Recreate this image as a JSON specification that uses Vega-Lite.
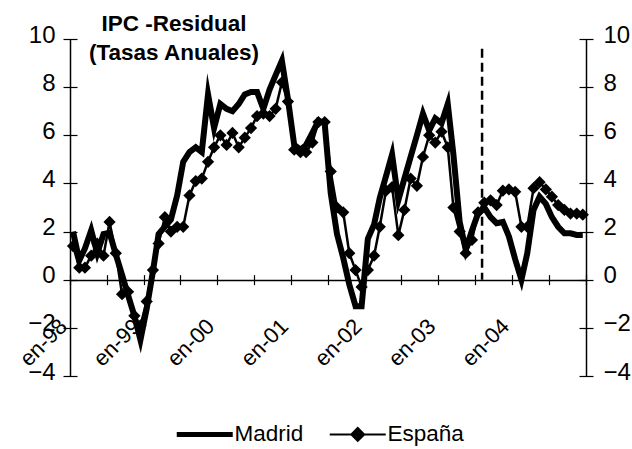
{
  "$schema": "https://vega.github.io/schema/vega-lite/v6.json",
  "width": 516,
  "height": 337,
  "autosize": {"type": "none"},
  "padding": {"left": 70, "top": 39, "right": 46, "bottom": 73},
  "background": "white",
  "config": {"view": {"stroke": null}, "font": "Liberation Sans"},
  "title": {
    "text": ["IPC -Residual", "(Tasas Anuales)"],
    "anchor": "start",
    "frame": "group",
    "align": "center",
    "dx": 104,
    "dy": 37,
    "offset": -22,
    "baseline": "alphabetic",
    "lineHeight": 29,
    "font": "Liberation Sans",
    "fontSize": 22.5,
    "fontWeight": "bold",
    "color": "black"
  },
  "datasets": {
    "ipc": [
      {"fecha": "1998-01-16", "serie": "Madrid", "valor": 2.0},
      {"fecha": "1998-02-16", "serie": "Madrid", "valor": 0.8},
      {"fecha": "1998-03-16", "serie": "Madrid", "valor": 1.3},
      {"fecha": "1998-04-16", "serie": "Madrid", "valor": 2.05},
      {"fecha": "1998-05-16", "serie": "Madrid", "valor": 1.1},
      {"fecha": "1998-06-16", "serie": "Madrid", "valor": 1.9},
      {"fecha": "1998-07-16", "serie": "Madrid", "valor": 1.95},
      {"fecha": "1998-08-16", "serie": "Madrid", "valor": 1.05},
      {"fecha": "1998-09-16", "serie": "Madrid", "valor": 0.2},
      {"fecha": "1998-10-16", "serie": "Madrid", "valor": -0.65},
      {"fecha": "1998-11-16", "serie": "Madrid", "valor": -1.5},
      {"fecha": "1998-12-16", "serie": "Madrid", "valor": -2.5},
      {"fecha": "1999-01-16", "serie": "Madrid", "valor": -1.2},
      {"fecha": "1999-02-16", "serie": "Madrid", "valor": 0.35},
      {"fecha": "1999-03-16", "serie": "Madrid", "valor": 1.9},
      {"fecha": "1999-04-16", "serie": "Madrid", "valor": 2.2},
      {"fecha": "1999-05-16", "serie": "Madrid", "valor": 2.5},
      {"fecha": "1999-06-16", "serie": "Madrid", "valor": 3.5},
      {"fecha": "1999-07-16", "serie": "Madrid", "valor": 4.9},
      {"fecha": "1999-08-16", "serie": "Madrid", "valor": 5.3},
      {"fecha": "1999-09-16", "serie": "Madrid", "valor": 5.5},
      {"fecha": "1999-10-16", "serie": "Madrid", "valor": 5.3},
      {"fecha": "1999-11-16", "serie": "Madrid", "valor": 7.7},
      {"fecha": "1999-12-16", "serie": "Madrid", "valor": 6.3},
      {"fecha": "2000-01-16", "serie": "Madrid", "valor": 7.3},
      {"fecha": "2000-02-16", "serie": "Madrid", "valor": 7.1},
      {"fecha": "2000-03-16", "serie": "Madrid", "valor": 7.0},
      {"fecha": "2000-04-16", "serie": "Madrid", "valor": 7.3},
      {"fecha": "2000-05-16", "serie": "Madrid", "valor": 7.7},
      {"fecha": "2000-06-16", "serie": "Madrid", "valor": 7.8},
      {"fecha": "2000-07-16", "serie": "Madrid", "valor": 7.8},
      {"fecha": "2000-08-16", "serie": "Madrid", "valor": 7.1},
      {"fecha": "2000-09-16", "serie": "Madrid", "valor": 7.9},
      {"fecha": "2000-10-16", "serie": "Madrid", "valor": 8.5},
      {"fecha": "2000-11-16", "serie": "Madrid", "valor": 9.1},
      {"fecha": "2000-12-16", "serie": "Madrid", "valor": 7.5},
      {"fecha": "2001-01-16", "serie": "Madrid", "valor": 5.6},
      {"fecha": "2001-02-16", "serie": "Madrid", "valor": 5.4},
      {"fecha": "2001-03-16", "serie": "Madrid", "valor": 5.6},
      {"fecha": "2001-04-16", "serie": "Madrid", "valor": 6.1},
      {"fecha": "2001-05-16", "serie": "Madrid", "valor": 6.6},
      {"fecha": "2001-06-16", "serie": "Madrid", "valor": 6.5},
      {"fecha": "2001-07-16", "serie": "Madrid", "valor": 3.6},
      {"fecha": "2001-08-16", "serie": "Madrid", "valor": 1.9},
      {"fecha": "2001-09-16", "serie": "Madrid", "valor": 0.9},
      {"fecha": "2001-10-16", "serie": "Madrid", "valor": -0.2},
      {"fecha": "2001-11-16", "serie": "Madrid", "valor": -1.1},
      {"fecha": "2001-12-16", "serie": "Madrid", "valor": -1.1},
      {"fecha": "2002-01-16", "serie": "Madrid", "valor": 1.7},
      {"fecha": "2002-02-16", "serie": "Madrid", "valor": 2.3},
      {"fecha": "2002-03-16", "serie": "Madrid", "valor": 3.4},
      {"fecha": "2002-04-16", "serie": "Madrid", "valor": 4.3},
      {"fecha": "2002-05-16", "serie": "Madrid", "valor": 5.2},
      {"fecha": "2002-06-16", "serie": "Madrid", "valor": 3.3},
      {"fecha": "2002-07-16", "serie": "Madrid", "valor": 4.2},
      {"fecha": "2002-08-16", "serie": "Madrid", "valor": 5.1},
      {"fecha": "2002-09-16", "serie": "Madrid", "valor": 6.0},
      {"fecha": "2002-10-16", "serie": "Madrid", "valor": 6.9},
      {"fecha": "2002-11-16", "serie": "Madrid", "valor": 6.2},
      {"fecha": "2002-12-16", "serie": "Madrid", "valor": 6.7},
      {"fecha": "2003-01-16", "serie": "Madrid", "valor": 6.5},
      {"fecha": "2003-02-16", "serie": "Madrid", "valor": 7.3},
      {"fecha": "2003-03-16", "serie": "Madrid", "valor": 5.2},
      {"fecha": "2003-04-16", "serie": "Madrid", "valor": 2.4},
      {"fecha": "2003-05-16", "serie": "Madrid", "valor": 1.25},
      {"fecha": "2003-06-16", "serie": "Madrid", "valor": 2.05},
      {"fecha": "2003-07-16", "serie": "Madrid", "valor": 2.75},
      {"fecha": "2003-08-16", "serie": "Madrid", "valor": 3.0},
      {"fecha": "2003-09-16", "serie": "Madrid", "valor": 2.6},
      {"fecha": "2003-10-16", "serie": "Madrid", "valor": 2.35},
      {"fecha": "2003-11-16", "serie": "Madrid", "valor": 2.4},
      {"fecha": "2003-12-16", "serie": "Madrid", "valor": 1.8},
      {"fecha": "2004-01-16", "serie": "Madrid", "valor": 0.85},
      {"fecha": "2004-02-16", "serie": "Madrid", "valor": 0.0},
      {"fecha": "2004-03-16", "serie": "Madrid", "valor": 1.1},
      {"fecha": "2004-04-16", "serie": "Madrid", "valor": 2.9},
      {"fecha": "2004-05-16", "serie": "Madrid", "valor": 3.45},
      {"fecha": "2004-06-16", "serie": "Madrid", "valor": 3.15},
      {"fecha": "2004-07-16", "serie": "Madrid", "valor": 2.6},
      {"fecha": "2004-08-16", "serie": "Madrid", "valor": 2.2},
      {"fecha": "2004-09-16", "serie": "Madrid", "valor": 1.93},
      {"fecha": "2004-10-16", "serie": "Madrid", "valor": 1.93},
      {"fecha": "2004-11-16", "serie": "Madrid", "valor": 1.86},
      {"fecha": "2004-12-16", "serie": "Madrid", "valor": 1.86},
      {"fecha": "1998-01-16", "serie": "España", "valor": 1.4},
      {"fecha": "1998-02-16", "serie": "España", "valor": 0.5},
      {"fecha": "1998-03-16", "serie": "España", "valor": 0.5},
      {"fecha": "1998-04-16", "serie": "España", "valor": 1.0},
      {"fecha": "1998-05-16", "serie": "España", "valor": 1.5},
      {"fecha": "1998-06-16", "serie": "España", "valor": 1.0},
      {"fecha": "1998-07-16", "serie": "España", "valor": 2.4},
      {"fecha": "1998-08-16", "serie": "España", "valor": 1.1},
      {"fecha": "1998-09-16", "serie": "España", "valor": -0.6},
      {"fecha": "1998-10-16", "serie": "España", "valor": -0.5},
      {"fecha": "1998-11-16", "serie": "España", "valor": -1.5},
      {"fecha": "1998-12-16", "serie": "España", "valor": -1.9},
      {"fecha": "1999-01-16", "serie": "España", "valor": -0.9},
      {"fecha": "1999-02-16", "serie": "España", "valor": 0.4},
      {"fecha": "1999-03-16", "serie": "España", "valor": 1.5},
      {"fecha": "1999-04-16", "serie": "España", "valor": 2.6},
      {"fecha": "1999-05-16", "serie": "España", "valor": 2.0},
      {"fecha": "1999-06-16", "serie": "España", "valor": 2.2},
      {"fecha": "1999-07-16", "serie": "España", "valor": 2.2},
      {"fecha": "1999-08-16", "serie": "España", "valor": 3.5},
      {"fecha": "1999-09-16", "serie": "España", "valor": 4.1},
      {"fecha": "1999-10-16", "serie": "España", "valor": 4.2},
      {"fecha": "1999-11-16", "serie": "España", "valor": 4.9},
      {"fecha": "1999-12-16", "serie": "España", "valor": 5.5},
      {"fecha": "2000-01-16", "serie": "España", "valor": 6.0},
      {"fecha": "2000-02-16", "serie": "España", "valor": 5.6},
      {"fecha": "2000-03-16", "serie": "España", "valor": 6.1},
      {"fecha": "2000-04-16", "serie": "España", "valor": 5.5},
      {"fecha": "2000-05-16", "serie": "España", "valor": 5.9},
      {"fecha": "2000-06-16", "serie": "España", "valor": 6.3},
      {"fecha": "2000-07-16", "serie": "España", "valor": 6.8},
      {"fecha": "2000-08-16", "serie": "España", "valor": 6.9},
      {"fecha": "2000-09-16", "serie": "España", "valor": 6.8},
      {"fecha": "2000-10-16", "serie": "España", "valor": 7.1},
      {"fecha": "2000-11-16", "serie": "España", "valor": 8.2},
      {"fecha": "2000-12-16", "serie": "España", "valor": 7.4},
      {"fecha": "2001-01-16", "serie": "España", "valor": 5.4},
      {"fecha": "2001-02-16", "serie": "España", "valor": 5.3},
      {"fecha": "2001-03-16", "serie": "España", "valor": 5.3},
      {"fecha": "2001-04-16", "serie": "España", "valor": 5.7},
      {"fecha": "2001-05-16", "serie": "España", "valor": 6.55},
      {"fecha": "2001-06-16", "serie": "España", "valor": 6.55},
      {"fecha": "2001-07-16", "serie": "España", "valor": 4.5},
      {"fecha": "2001-08-16", "serie": "España", "valor": 3.0},
      {"fecha": "2001-09-16", "serie": "España", "valor": 2.8},
      {"fecha": "2001-10-16", "serie": "España", "valor": 1.1},
      {"fecha": "2001-11-16", "serie": "España", "valor": 0.4},
      {"fecha": "2001-12-16", "serie": "España", "valor": -0.3},
      {"fecha": "2002-01-16", "serie": "España", "valor": 0.4},
      {"fecha": "2002-02-16", "serie": "España", "valor": 1.0},
      {"fecha": "2002-03-16", "serie": "España", "valor": 2.2},
      {"fecha": "2002-04-16", "serie": "España", "valor": 3.7},
      {"fecha": "2002-05-16", "serie": "España", "valor": 3.85},
      {"fecha": "2002-06-16", "serie": "España", "valor": 1.85},
      {"fecha": "2002-07-16", "serie": "España", "valor": 2.9},
      {"fecha": "2002-08-16", "serie": "España", "valor": 4.2},
      {"fecha": "2002-09-16", "serie": "España", "valor": 3.9},
      {"fecha": "2002-10-16", "serie": "España", "valor": 5.1},
      {"fecha": "2002-11-16", "serie": "España", "valor": 6.0},
      {"fecha": "2002-12-16", "serie": "España", "valor": 5.7},
      {"fecha": "2003-01-16", "serie": "España", "valor": 6.15},
      {"fecha": "2003-02-16", "serie": "España", "valor": 5.5},
      {"fecha": "2003-03-16", "serie": "España", "valor": 3.0},
      {"fecha": "2003-04-16", "serie": "España", "valor": 2.0},
      {"fecha": "2003-05-16", "serie": "España", "valor": 1.1},
      {"fecha": "2003-06-16", "serie": "España", "valor": 1.65},
      {"fecha": "2003-07-16", "serie": "España", "valor": 2.8},
      {"fecha": "2003-08-16", "serie": "España", "valor": 3.2},
      {"fecha": "2003-09-16", "serie": "España", "valor": 3.3},
      {"fecha": "2003-10-16", "serie": "España", "valor": 3.1},
      {"fecha": "2003-11-16", "serie": "España", "valor": 3.7},
      {"fecha": "2003-12-16", "serie": "España", "valor": 3.75},
      {"fecha": "2004-01-16", "serie": "España", "valor": 3.65},
      {"fecha": "2004-02-16", "serie": "España", "valor": 2.2},
      {"fecha": "2004-03-16", "serie": "España", "valor": 2.2},
      {"fecha": "2004-04-16", "serie": "España", "valor": 3.8},
      {"fecha": "2004-05-16", "serie": "España", "valor": 4.05},
      {"fecha": "2004-06-16", "serie": "España", "valor": 3.75},
      {"fecha": "2004-07-16", "serie": "España", "valor": 3.45},
      {"fecha": "2004-08-16", "serie": "España", "valor": 3.1},
      {"fecha": "2004-09-16", "serie": "España", "valor": 2.9},
      {"fecha": "2004-10-16", "serie": "España", "valor": 2.75},
      {"fecha": "2004-11-16", "serie": "España", "valor": 2.75},
      {"fecha": "2004-12-16", "serie": "España", "valor": 2.7}
    ],
    "corte": [{"fecha": "2003-08-05", "arriba": 9.6, "abajo": 0}]
  },
  "layer": [
    {
      "data": {"name": "ipc"},
      "transform": [{"filter": "datum.serie === 'Madrid'"}],
      "mark": {"type": "line", "strokeWidth": 6, "strokeJoin": "miter", "strokeMiterLimit": 10},
      "encoding": {
        "x": {
          "field": "fecha", "type": "temporal",
          "scale": {"type": "utc", "domain": [{"year": 1998, "month": 1, "date": 1, "utc": true}, {"year": 2005, "month": 1, "date": 1, "utc": true}]},
          "axis": {
            "orient": "bottom", "offset": -101.4,
            "values": [
              {"year": 1998, "month": 1, "date": 1, "utc": true}, {"year": 1998, "month": 7, "date": 1, "utc": true},
              {"year": 1999, "month": 1, "date": 1, "utc": true}, {"year": 1999, "month": 7, "date": 1, "utc": true},
              {"year": 2000, "month": 1, "date": 1, "utc": true}, {"year": 2000, "month": 7, "date": 1, "utc": true},
              {"year": 2001, "month": 1, "date": 1, "utc": true}, {"year": 2001, "month": 7, "date": 1, "utc": true},
              {"year": 2002, "month": 1, "date": 1, "utc": true}, {"year": 2002, "month": 7, "date": 1, "utc": true},
              {"year": 2003, "month": 1, "date": 1, "utc": true}, {"year": 2003, "month": 7, "date": 1, "utc": true},
              {"year": 2004, "month": 1, "date": 1, "utc": true}, {"year": 2004, "month": 7, "date": 1, "utc": true},
              {"year": 2005, "month": 1, "date": 1, "utc": true}
            ],
            "tickSize": 10, "tickColor": "black", "tickWidth": 1.2,
            "domain": false, "grid": false, "title": null,
            "labelExpr": "utcmonth(datum.value) == 0 && utcyear(datum.value) < 2005 ? 'en-' + utcFormat(datum.value, '%y') : ''",
            "labelAngle": -45, "labelAlign": "right", "labelBaseline": "middle",
            "labelPadding": 37.7, "labelOffset": -7,
            "labelFont": "Liberation Sans", "labelFontSize": 22, "labelColor": "black",
            "labelOverlap": false, "labelBound": false, "labelFlush": false
          }
        },
        "y": {
          "field": "valor", "type": "quantitative",
          "scale": {"domain": [-4, 10], "nice": false, "zero": false},
          "axis": {
            "orient": "left", "offset": -7, "values": [-4, -2, 0, 2, 4, 6, 8, 10],
            "tickSize": 14, "tickColor": "black", "tickWidth": 1.2,
            "domain": false, "grid": false, "title": null,
            "labelPadding": 8, "labelOffset": -4,
            "labelFont": "Liberation Sans", "labelFontSize": 24, "labelColor": "black",
            "labelOverlap": false, "labelBound": false, "labelFlush": false
          }
        },
        "color": {
          "field": "serie", "type": "nominal",
          "scale": {"domain": ["Madrid", "España"], "range": ["black", "black"]},
          "legend": {
            "title": null, "orient": "none", "legendX": 123.5, "legendY": 384,
            "direction": "horizontal", "symbolSize": 3136,
            "labelFont": "Liberation Sans", "labelFontSize": 22.5, "labelColor": "black",
            "labelOffset": 18.5, "columnPadding": 22,
            "encode": {
              "symbols": {
                "update": {
                  "shape": {"signal": "datum.value === 'Madrid' ? 'M-1,0L1,0' : 'M-1,0L1,0M-0.23,0L0,-0.23L0.23,0L0,0.23Z'"},
                  "size": {"value": 3136},
                  "strokeWidth": {"signal": "datum.value === 'Madrid' ? 5 : 2"},
                  "fill": {"value": "black"},
                  "stroke": {"value": "black"},
                  "opacity": {"value": 1}
                }
              }
            }
          }
        }
      }
    },
    {
      "data": {"name": "ipc"},
      "transform": [{"filter": "datum.serie === 'España'"}],
      "mark": {"type": "line", "strokeWidth": 2.5},
      "encoding": {
        "x": {
          "field": "fecha", "type": "temporal",
          "axis": {
            "orient": "top",
            "values": [{"year": 1998, "month": 1, "date": 1, "utc": true}, {"year": 2005, "month": 1, "date": 1, "utc": true}],
            "grid": true, "gridColor": "black", "gridWidth": 1.5, "gridOpacity": 1,
            "ticks": false, "labels": false, "domain": false, "title": null
          }
        },
        "y": {
          "field": "valor", "type": "quantitative",
          "axis": {
            "orient": "right", "values": [0],
            "grid": true, "gridColor": "black", "gridWidth": 1.5, "gridOpacity": 1,
            "ticks": false, "labels": false, "domain": false, "title": null
          }
        },
        "color": {
          "field": "serie", "type": "nominal",
          "scale": {"domain": ["Madrid", "España"], "range": ["black", "black"]}
        }
      }
    },
    {
      "data": {"name": "ipc"},
      "transform": [{"filter": "datum.serie === 'España'"}],
      "mark": {"type": "point", "shape": "diamond", "filled": true, "size": 150, "color": "black", "opacity": 1},
      "encoding": {
        "x": {"field": "fecha", "type": "temporal", "axis": null},
        "y": {"field": "valor", "type": "quantitative", "axis": null}
      }
    },
    {
      "data": {"name": "corte"},
      "mark": {"type": "rule", "color": "black", "strokeWidth": 2.5, "strokeDash": [9, 5]},
      "encoding": {
        "x": {"field": "fecha", "type": "temporal", "axis": null},
        "y": {
          "field": "arriba", "type": "quantitative",
          "axis": {
            "orient": "right", "offset": -7, "values": [-4, -2, 0, 2, 4, 6, 8, 10],
            "tickSize": 14, "tickColor": "black", "tickWidth": 1.2,
            "domain": false, "grid": false, "title": null,
            "labelPadding": 10, "labelOffset": -4,
            "labelFont": "Liberation Sans", "labelFontSize": 24, "labelColor": "black",
            "labelOverlap": false, "labelBound": false, "labelFlush": false
          }
        },
        "y2": {"field": "abajo"}
      }
    }
  ],
  "resolve": {"axis": {"x": "independent", "y": "independent"}}
}
